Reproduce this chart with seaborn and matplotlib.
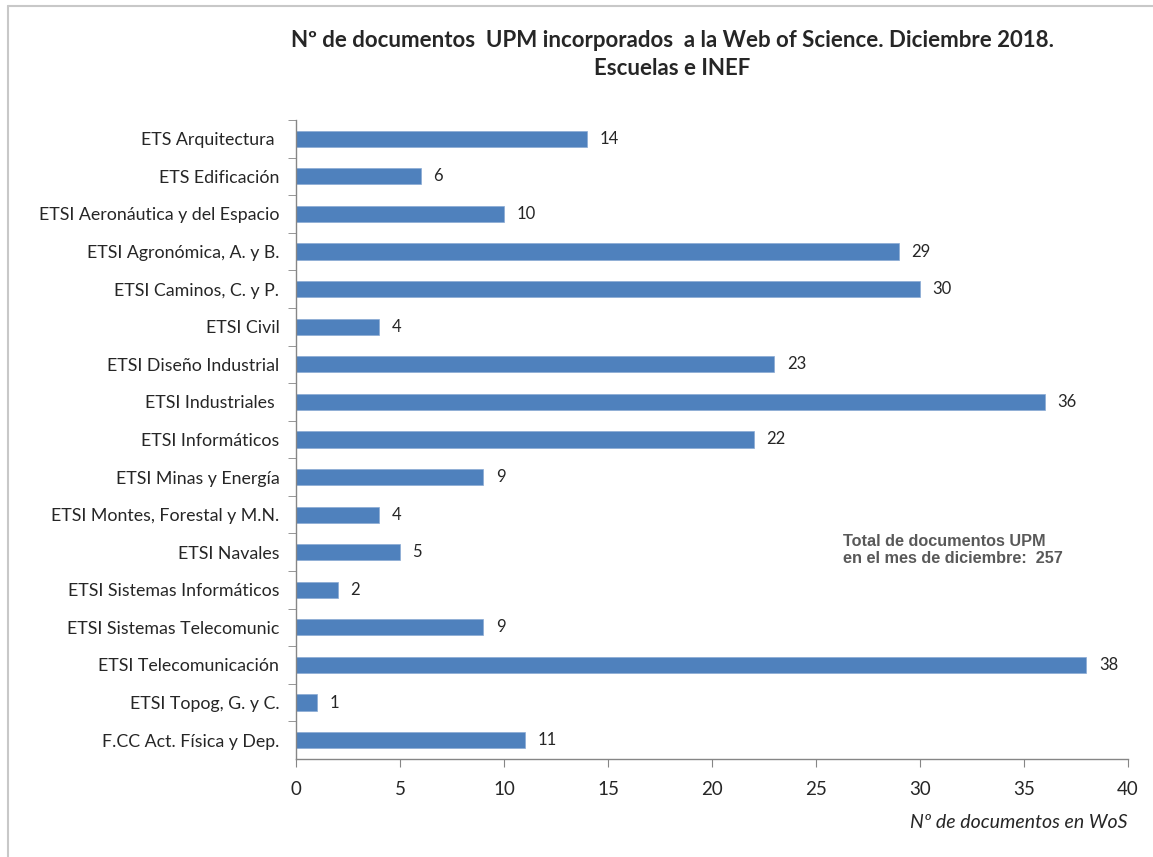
import numpy as np
import pandas as pd
import matplotlib
matplotlib.use("Agg")
import matplotlib.pyplot as plt
import seaborn as sns

# Datos
escuelas = ['ETS Arquitectura ', 'ETS Edificación', 'ETSI Aeronáutica y del Espacio',
            'ETSI Agronómica, A. y B.', 'ETSI Caminos, C. y P.', 'ETSI Civil',
            'ETSI Diseño Industrial', 'ETSI Industriales ', 'ETSI Informáticos',
            'ETSI Minas y Energía', 'ETSI Montes, Forestal y M.N.', 'ETSI Navales',
            'ETSI Sistemas Informáticos', 'ETSI Sistemas Telecomunic', 'ETSI Telecomunicación',
            'ETSI Topog, G. y C.', 'F.CC Act. Física y Dep.']
documentos = [14, 6, 10, 29, 30, 4, 23, 36, 22, 9, 4, 5, 2, 9, 38, 1, 11]
x_ticks = [0, 5, 10, 15, 20, 25, 30, 35, 40]
total = 257

df = pd.DataFrame({'escuela': escuelas, 'docs': documentos})

sns.set_style("white")
plt.rcParams['font.family'] = ['Lato', 'DejaVu Sans']

fig = plt.figure(figsize=(11.53, 8.57), dpi=100)
ax = fig.add_axes([0.2567, 0.1144, 0.7216, 0.7456])

sns.barplot(data=df, x='docs', y='escuela', color='#4F81BD', width=0.43, saturation=1,
            edgecolor='#8AAAD4', linewidth=0.5, ax=ax, orient='h')

ax.set_xlim(0, 40)
ax.set_xticks(x_ticks)
ax.set_ylim(len(escuelas) - 0.5, -0.5)
ax.set_yticks(np.arange(len(escuelas)) - 0.5, minor=True)
ax.tick_params(axis='y', which='major', length=0, pad=12, labelsize=12.8)
ax.tick_params(axis='y', which='minor', length=6, color='#868686', direction='out')
ax.tick_params(axis='x', length=6, color='#868686', direction='out', pad=10, labelsize=13.5, bottom=True)
ax.yaxis.set_ticks_position('left')
ax.xaxis.set_ticks_position('bottom')

for s in ['top', 'right']:
    ax.spines[s].set_visible(False)
for s in ['left', 'bottom']:
    ax.spines[s].set_color('#868686')
    ax.spines[s].set_linewidth(1)

for c in ax.containers:
    ax.bar_label(c, padding=9, fontsize=12)

ax.set_ylabel('')
ax.set_xlabel('')
fig.text(0.978, 0.040, 'Nº de documentos en WoS', ha='right', va='center',
         fontsize=14, style='italic')

fig.text(0.583, 0.953, 'Nº de documentos  UPM incorporados  a la Web of Science. Diciembre 2018.',
         ha='center', va='center', fontsize=16, fontweight='bold')
fig.text(0.583, 0.920, 'Escuelas e INEF', ha='center', va='center', fontsize=16, fontweight='bold')

fig.text(0.731, 0.358, 'Total de documentos UPM\nen el mes de diciembre:  %d' % total,
         ha='left', va='center', fontsize=11.7, fontweight='bold', color='#595959',
         family=['Liberation Sans', 'DejaVu Sans'], linespacing=1.2)

# marco del gráfico
fig.add_artist(plt.Line2D([0.007, 1.0], [0.993, 0.993], color='#C8C8C8', lw=1.5))
fig.add_artist(plt.Line2D([0.007, 0.007], [0.0, 0.993], color='#C8C8C8', lw=1.5))

fig.savefig('out.png', dpi=100)
